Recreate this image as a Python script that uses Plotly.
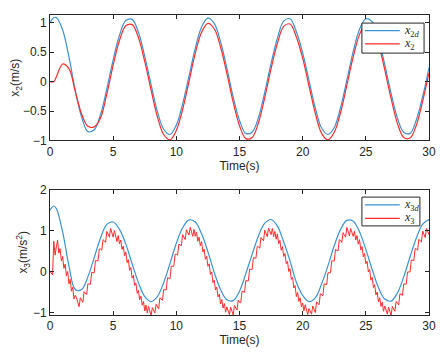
import plotly.graph_objects as go
from plotly.subplots import make_subplots

# time grids (s)
t_top = [0, 0.3] + [0.5 * i for i in range(1, 61)]
t_red3 = [0.1 * i for i in range(301)]

# x2d / x2 (m/s)
x2d = [1.00, 1.09, 1.09, 0.88, 0.42, -0.15, -0.60, -0.85, -0.82, -0.56,
       -0.12, 0.37, 0.79, 1.04, 1.06, 0.84, 0.43, -0.05, -0.51, -0.81,
       -0.90, -0.74, -0.38, 0.09, 0.57, 0.93, 1.08, 0.99, 0.68, 0.23,
       -0.26, -0.66, -0.88, -0.86, -0.61, -0.18, 0.31, 0.74, 1.03, 1.07,
       0.85, 0.49, 0.02, -0.45, -0.79, -0.90, -0.78, -0.44, 0.03, 0.51,
       0.89, 1.07, 1.02, 0.73, 0.29, -0.20, -0.62, -0.86, -0.88, -0.65,
       -0.25, 0.24]
x2 = [0.00, 0.00, 0.08, 0.30, 0.22, -0.17, -0.55, -0.76, -0.77, -0.62,
      -0.21, 0.28, 0.70, 0.95, 0.97, 0.75, 0.34, -0.14, -0.60, -0.90,
      -0.99, -0.83, -0.47, 0.00, 0.48, 0.84, 0.99, 0.90, 0.59, 0.14,
      -0.35, -0.75, -0.97, -0.95, -0.70, -0.27, 0.22, 0.65, 0.94, 0.98,
      0.76, 0.40, -0.07, -0.54, -0.88, -0.99, -0.86, -0.53, -0.06, 0.42,
      0.80, 0.98, 0.92, 0.64, 0.20, -0.29, -0.71, -0.95, -0.96, -0.74,
      -0.33, 0.15]

# x3d (m/s^2), lower panel, same grid as the upper panel
x3d = [1.50, 1.60, 1.54, 0.97, 0.14, -0.44, -0.44, -0.13, 0.34, 0.82,
       1.15, 1.21, 1.03, 0.67, 0.19, -0.27, -0.61, -0.73, -0.61, -0.27,
       0.20, 0.69, 1.07, 1.26, 1.21, 0.92, 0.48, -0.02, -0.44, -0.69,
       -0.71, -0.48, -0.05, 0.42, 0.87, 1.18, 1.27, 1.11, 0.72, 0.26,
       -0.26, -0.58, -0.73, -0.64, -0.30, 0.14, 0.63, 1.03, 1.25, 1.23,
       0.97, 0.54, 0.05, -0.39, -0.67, -0.72, -0.52, -0.13, 0.36, 0.82,
       1.16, 1.27]

# x3 (m/s^2), jagged response, every 0.1 s
x3 = [0.00, -0.03, -0.08, 0.74, 0.40, 0.60, 0.77, 0.45, 0.56, 0.26,
      0.37, 0.08, 0.18, -0.11, 0.00, -0.30, -0.19, -0.48, -0.38, -0.67,
      -0.58, -0.64, -0.76, -0.86, -0.64, -0.71, -0.75, -0.49, -0.52, -0.56,
      -0.30, -0.31, -0.31, -0.02, -0.02, -0.03, 0.27, 0.26, 0.26, 0.55,
      0.55, 0.52, 0.78, 0.75, 0.71, 0.98, 0.92, 0.84, 1.05, 0.95,
      0.84, 1.00, 0.87, 0.73, 0.88, 0.68, 0.77, 0.54, 0.62, 0.39,
      0.48, 0.22, 0.29, 0.03, 0.10, -0.16, -0.09, -0.34, -0.28, -0.53,
      -0.46, -0.69, -0.60, -0.82, -0.73, -0.96, -0.82, -1.01, -0.85, -0.98,
      -1.07, -0.88, -0.95, -1.01, -0.80, -0.88, -0.91, -0.64, -0.67, -0.70,
      -0.44, -0.44, -0.45, -0.15, -0.16, -0.17, 0.13, 0.13, 0.13, 0.42,
      0.42, 0.40, 0.67, 0.65, 0.63, 0.90, 0.84, 0.78, 1.02, 0.95,
      0.89, 1.08, 0.97, 0.86, 1.03, 0.86, 0.96, 0.74, 0.84, 0.63,
      0.73, 0.48, 0.55, 0.30, 0.37, 0.13, 0.19, -0.07, -0.01, -0.27,
      -0.21, -0.45, -0.38, -0.62, -0.55, -0.79, -0.68, -0.89, -0.78, -0.99,
      -0.86, -0.97, -1.05, -0.87, -0.97, -1.06, -0.83, -0.89, -0.94, -0.70,
      -0.75, -0.76, -0.48, -0.49, -0.51, -0.22, -0.23, -0.23, 0.06, 0.06,
      0.05, 0.34, 0.33, 0.32, 0.61, 0.60, 0.57, 0.83, 0.79, 0.75,
      1.01, 0.93, 0.85, 1.06, 0.98, 0.90, 1.05, 0.85, 0.98, 0.79,
      0.92, 0.68, 0.76, 0.52, 0.61, 0.37, 0.44, 0.19, 0.25, 0.00,
      0.07, -0.19, -0.14, -0.40, -0.34, -0.61, -0.51, -0.73, -0.64, -0.86,
      -0.77, -0.96, -0.81, -0.94, -1.05, -0.90, -0.98, -1.04, -0.84, -0.92,
      -1.00, -0.74, -0.77, -0.81, -0.54, -0.57, -0.59, -0.30, -0.31, -0.32,
      -0.03, -0.03, -0.03, 0.26, 0.26, 0.26, 0.54, 0.52, 0.50, 0.78,
      0.76, 0.71, 0.95, 0.89, 0.84, 1.08, 0.97, 0.87, 1.05, 0.96,
      0.86, 0.98, 0.77, 0.88, 0.67, 0.78, 0.53, 0.61, 0.36, 0.44,
      0.19, 0.25, -0.01, 0.05, -0.21, -0.14, -0.39, -0.32, -0.57, -0.50,
      -0.74, -0.64, -0.85, -0.75, -0.97, -0.84, -0.95, -1.04, -0.87, -0.98,
      -1.07, -0.85, -0.91, -0.97, -0.73, -0.79, -0.81, -0.54, -0.56, -0.58,
      -0.30, -0.30, -0.31, -0.01, -0.01, -0.01, 0.28, 0.27, 0.27, 0.56,
      0.55, 0.52, 0.79, 0.75, 0.72, 0.99, 0.91, 0.83, 1.05, 0.98,
      0.90]

names = ['<i>x</i><sub>2<i>d</i></sub>', '<i>x</i><sub>2</sub>',
         '<i>x</i><sub>3<i>d</i></sub>', '<i>x</i><sub>3</sub>']

BLUE = '#3a93d3'
RED = '#ff2b2b'
AX = '#262626'

fig = make_subplots(rows=2, cols=1, vertical_spacing=0.164)

fig.add_trace(go.Scatter(x=t_top, y=x2d, name=names[0], mode='lines',
                         line=dict(color=BLUE, width=1.2, shape='spline')), row=1, col=1)
fig.add_trace(go.Scatter(x=t_top, y=x2, name=names[1], mode='lines',
                         line=dict(color=RED, width=1.2, shape='spline')), row=1, col=1)
fig.add_trace(go.Scatter(x=t_top, y=x3d, name=names[2], mode='lines',
                         line=dict(color=BLUE, width=1.2, shape='spline')), row=2, col=1)
fig.add_trace(go.Scatter(x=t_red3, y=x3, name=names[3], mode='lines',
                         line=dict(color=RED, width=1)), row=2, col=1)

axis_style = dict(showline=True, linecolor=AX, linewidth=1, mirror='ticks',
                  ticks='inside', ticklen=4, tickcolor=AX, showgrid=False,
                  zeroline=False, automargin=False,
                  tickfont=dict(size=12, color=AX),
                  title_font=dict(size=12, color=AX))

fig.update_xaxes(range=[0, 30], tickvals=[0, 5, 10, 15, 20, 25, 30],
                 title_text='Time(s)', title_standoff=0, **axis_style)
fig.update_yaxes(range=[-1, 1.134], tickvals=[-1, -0.5, 0, 0.5, 1],
                 title_text='x<sub>2</sub>(m/s)', title_standoff=2,
                 row=1, col=1, **axis_style)
fig.update_yaxes(range=[-1.06, 2], tickvals=[-1, 0, 1, 2],
                 title_text='x<sub>3</sub>(m/s<sup>2</sup>)', title_standoff=2,
                 row=2, col=1, **axis_style)

# compact MATLAB-style legend boxes (paper coordinates)
legends = [
    dict(box=(0.823, 0.987, 0.873, 0.973), ys=(0.948, 0.904), items=(0, 1)),
    dict(box=(0.823, 0.976, 0.297, 0.393), ys=(0.367, 0.322), items=(2, 3)),
]
colors = [BLUE, RED, BLUE, RED]
for lg in legends:
    x0, x1, y0, y1 = lg['box']
    fig.add_shape(type='rect', xref='paper', yref='paper', x0=x0, x1=x1, y0=y0, y1=y1,
                  line=dict(color=AX, width=1), fillcolor='white', layer='above')
    for yy, k in zip(lg['ys'], lg['items']):
        fig.add_shape(type='line', xref='paper', yref='paper', x0=0.831, x1=0.923,
                      y0=yy, y1=yy, line=dict(color=colors[k], width=1.2), layer='above')
        fig.add_annotation(xref='paper', yref='paper', x=0.929, y=yy, text=names[k],
                           showarrow=False, xanchor='left', yanchor='middle',
                           font=dict(family='Liberation Serif', size=12, color=AX))

# page body adds an 8 px offset, so margins are shifted to compensate
fig.update_layout(
    width=445, height=354,
    margin=dict(l=42, r=24, t=7, b=47),
    paper_bgcolor='white', plot_bgcolor='white', showlegend=False,
    font=dict(family='Liberation Sans, Arial, sans-serif', size=12, color=AX),
)

fig.write_html("out.html")
